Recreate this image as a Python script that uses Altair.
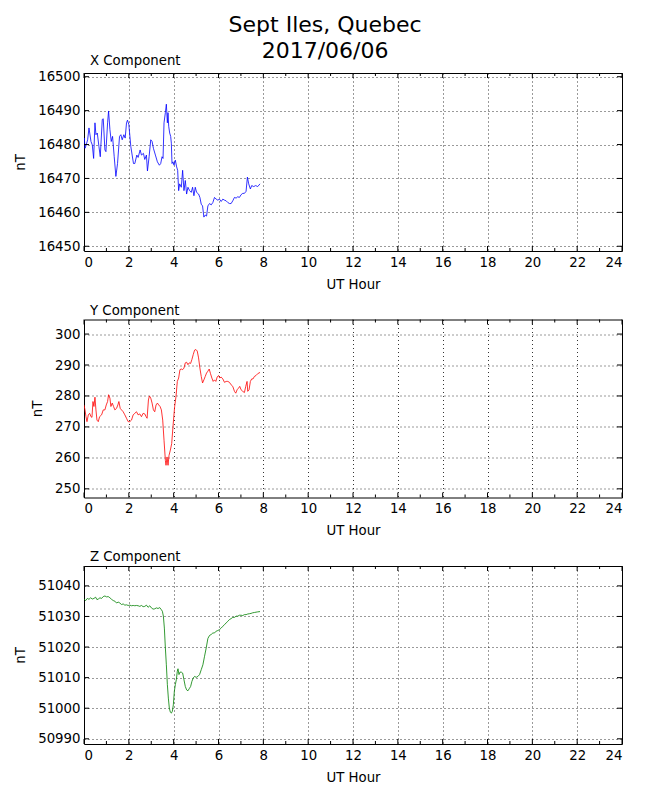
import altair as alt
import pandas as pd

FONT = "DejaVu Sans"

# ---------------- data ----------------
X_HOURS = [0.000, 0.015, 0.044, 0.074, 0.163, 0.222, 0.311, 0.370, 0.430, 0.489, 0.533, 0.593,
           0.667, 0.726, 0.815, 0.859, 0.933, 0.978, 1.052, 1.096, 1.156, 1.215, 1.274, 1.348,
           1.422, 1.496, 1.585, 1.644, 1.704, 1.778, 1.837, 1.896, 1.941, 2.000, 2.089, 2.207,
           2.267, 2.356, 2.415, 2.504, 2.563, 2.652, 2.711, 2.785, 2.830, 2.904, 2.978, 3.037,
           3.096, 3.185, 3.274, 3.363, 3.422, 3.481, 3.526, 3.570, 3.630, 3.674, 3.719, 3.748,
           3.778, 3.822, 3.867, 3.896, 3.926, 3.970, 4.015, 4.074, 4.133, 4.178, 4.222, 4.267,
           4.341, 4.400, 4.459, 4.519, 4.578, 4.637, 4.711, 4.785, 4.844, 4.904, 4.963, 5.022,
           5.111, 5.170, 5.230, 5.289, 5.348, 5.407, 5.467, 5.526, 5.600, 5.674, 5.748, 5.822,
           5.896, 5.970, 6.044, 6.119, 6.193, 6.267, 6.341, 6.415, 6.489, 6.563, 6.637, 6.711,
           6.785, 6.859, 6.933, 7.007, 7.081, 7.156, 7.230, 7.289, 7.348, 7.422, 7.481, 7.570,
           7.659, 7.748, 7.852]
X_VALUES = [16481.4, 16481.9, 16478.9, 16479.4, 16481.4, 16484.9, 16480.9, 16479.9, 16475.9, 16486.4,
            16482.9, 16483.4, 16479.4, 16476.4, 16487.4, 16487.6, 16478.4, 16477.9, 16486.4, 16489.9,
            16484.4, 16480.9, 16482.4, 16476.4, 16470.6, 16474.4, 16482.4, 16482.9, 16481.4, 16482.9,
            16481.9, 16486.4, 16487.2, 16485.9, 16479.4, 16474.4, 16474.4, 16476.9, 16476.2, 16478.4,
            16476.9, 16477.4, 16475.6, 16476.9, 16472.2, 16476.4, 16481.4, 16480.9, 16478.9, 16476.9,
            16474.9, 16473.9, 16474.4, 16476.4, 16475.9, 16486.4, 16489.4, 16491.9, 16486.4, 16489.4,
            16485.4, 16483.4, 16482.4, 16480.4, 16474.4, 16474.9, 16473.9, 16475.4, 16473.4, 16472.4,
            16466.4, 16468.4, 16467.4, 16472.4, 16466.4, 16469.4, 16465.4, 16467.4, 16466.4, 16465.9,
            16467.4, 16464.9, 16467.4, 16465.9, 16465.4, 16464.4, 16462.4, 16461.9, 16458.6, 16459.2,
            16458.9, 16461.9, 16462.6, 16462.2, 16462.9, 16464.4, 16463.9, 16463.6, 16463.9, 16463.2,
            16463.9, 16463.6, 16463.4, 16462.9, 16462.6, 16462.6, 16463.4, 16464.4, 16464.2, 16464.6,
            16464.4, 16465.2, 16465.6, 16465.6, 16466.2, 16470.4, 16468.4, 16466.9, 16467.9, 16467.6,
            16467.9, 16467.6, 16468.4]

Y_HOURS = [0.000, 0.044, 0.089, 0.133, 0.193, 0.252, 0.311, 0.356, 0.400, 0.444, 0.489, 0.533,
           0.578, 0.637, 0.696, 0.785, 0.859, 0.933, 0.993, 1.052, 1.096, 1.156, 1.200, 1.259,
           1.319, 1.378, 1.452, 1.511, 1.556, 1.615, 1.674, 1.748, 1.822, 1.896, 1.970, 2.044,
           2.119, 2.193, 2.267, 2.341, 2.415, 2.489, 2.563, 2.637, 2.711, 2.770, 2.815, 2.874,
           2.919, 2.978, 3.037, 3.096, 3.156, 3.215, 3.274, 3.333, 3.393, 3.452, 3.511, 3.570,
           3.630, 3.659, 3.704, 3.748, 3.793, 3.852, 3.911, 3.970, 4.044, 4.104, 4.163, 4.222,
           4.281, 4.341, 4.400, 4.459, 4.519, 4.578, 4.637, 4.696, 4.756, 4.815, 4.874, 4.933,
           4.993, 5.052, 5.111, 5.170, 5.230, 5.289, 5.348, 5.407, 5.467, 5.526, 5.585, 5.644,
           5.704, 5.763, 5.822, 5.881, 5.941, 6.000, 6.059, 6.119, 6.193, 6.267, 6.341, 6.415,
           6.489, 6.563, 6.637, 6.711, 6.770, 6.830, 6.889, 6.948, 7.007, 7.081, 7.156, 7.215,
           7.274, 7.304, 7.363, 7.422, 7.481, 7.541, 7.600, 7.674, 7.748, 7.852]
Y_VALUES = [277.1, 275.5, 273.3, 271.7, 273.9, 274.4, 273.3, 273.1, 278.2, 276.6, 279.6, 275.5,
            272.2, 271.7, 273.3, 273.9, 275.5, 275.5, 277.1, 278.2, 280.4, 279.3, 276.6, 277.7,
            276.6, 275.5, 276.0, 277.1, 278.2, 276.0, 275.5, 274.9, 273.9, 272.8, 271.7, 271.7,
            272.2, 273.9, 274.4, 274.9, 273.9, 274.2, 273.3, 274.4, 274.2, 273.3, 272.8, 278.7,
            280.0, 279.3, 277.7, 275.5, 274.9, 277.1, 277.7, 277.1, 276.6, 275.5, 272.2, 265.7,
            259.2, 257.6, 260.3, 257.6, 260.8, 262.5, 264.6, 270.1, 276.6, 279.8, 284.7, 285.8,
            288.5, 288.7, 288.5, 289.0, 290.7, 290.9, 290.1, 290.7, 290.5, 291.8, 293.4, 294.8,
            295.0, 294.5, 292.3, 289.0, 286.3, 284.2, 285.2, 286.3, 287.4, 288.0, 288.7, 287.2,
            285.8, 284.7, 285.2, 284.7, 286.1, 286.6, 285.8, 286.1, 285.5, 284.4, 284.7, 284.7,
            284.4, 283.6, 283.1, 281.5, 280.9, 282.0, 282.5, 283.1, 282.0, 281.5, 281.1, 283.1,
            284.7, 281.5, 282.0, 284.7, 285.5, 285.5, 286.3, 286.6, 287.2, 287.6]

Z_HOURS = [0.000, 0.074, 0.148, 0.222, 0.296, 0.370, 0.444, 0.519, 0.578, 0.637, 0.711, 0.785,
           0.859, 0.933, 1.007, 1.081, 1.156, 1.230, 1.304, 1.378, 1.452, 1.526, 1.600, 1.674,
           1.748, 1.822, 1.896, 1.970, 2.044, 2.119, 2.193, 2.267, 2.341, 2.415, 2.489, 2.563,
           2.637, 2.711, 2.785, 2.859, 2.933, 3.007, 3.081, 3.156, 3.230, 3.304, 3.378, 3.452,
           3.496, 3.541, 3.585, 3.630, 3.674, 3.719, 3.763, 3.807, 3.852, 3.896, 3.941, 3.985,
           4.030, 4.074, 4.119, 4.163, 4.193, 4.237, 4.281, 4.341, 4.400, 4.459, 4.519, 4.578,
           4.637, 4.696, 4.756, 4.815, 4.874, 4.933, 5.007, 5.081, 5.156, 5.230, 5.304, 5.378,
           5.452, 5.526, 5.600, 5.674, 5.748, 5.822, 5.896, 5.970, 6.044, 6.119, 6.193, 6.267,
           6.341, 6.415, 6.489, 6.563, 6.637, 6.711, 6.785, 6.859, 6.933, 7.007, 7.081, 7.156,
           7.230, 7.304, 7.378, 7.452, 7.526, 7.600, 7.674, 7.748, 7.852]
Z_VALUES = [51035.7, 51035.2, 51035.9, 51035.6, 51036.1, 51035.7, 51035.9, 51036.3, 51035.5, 51035.7,
            51036.1, 51035.9, 51036.5, 51036.7, 51036.4, 51036.5, 51036.1, 51035.6, 51035.2, 51035.0,
            51034.4, 51034.7, 51034.4, 51033.9, 51034.1, 51033.7, 51033.8, 51033.6, 51033.7, 51033.5,
            51033.6, 51033.5, 51033.6, 51033.5, 51033.3, 51033.6, 51033.2, 51033.3, 51033.7, 51033.0,
            51033.5, 51032.8, 51032.4, 51032.5, 51032.8, 51032.6, 51032.9, 51032.2, 51031.7, 51030.1,
            51026.2, 51019.7, 51014.2, 51007.7, 51003.3, 51000.0, 50998.7, 50998.4, 50999.0, 51001.1,
            51005.5, 51007.7, 51009.3, 51012.1, 51012.9, 51011.0, 51011.8, 51011.8, 51011.5, 51009.3,
            51007.1, 51006.0, 51005.7, 51006.4, 51007.1, 51008.8, 51009.9, 51010.4, 51010.1, 51010.4,
            51011.0, 51012.6, 51014.2, 51017.0, 51019.7, 51022.8, 51023.8, 51024.1, 51024.6, 51024.6,
            51025.2, 51025.4, 51025.7, 51026.2, 51026.8, 51027.3, 51027.9, 51028.4, 51029.0, 51029.3,
            51029.7, 51029.7, 51030.1, 51030.1, 51030.4, 51030.4, 51030.3, 51030.6, 51030.6, 51030.8,
            51030.9, 51031.0, 51031.2, 51031.3, 51031.4, 51031.5, 51031.6]

X_DOMAIN = [16448.6, 16501.1]
Y_DOMAIN = [247.2, 304.7]
Z_DOMAIN = [50988.3, 51046.5]

X_TICKS = [16450, 16460, 16470, 16480, 16490, 16500]
Y_TICKS = [250, 260, 270, 280, 290, 300]
Z_TICKS = [50990, 51000, 51010, 51020, 51030, 51040]

HOUR_LABELS = [0, 2, 4, 6, 8, 10, 12, 14, 16, 18, 20, 22, 24]
HOUR_MINOR = [1, 3, 5, 7, 9, 11, 13, 15, 17, 19, 21, 23]

TITLE_LINES = ["Sept Iles, Quebec", "2017/06/06"]

W, H = 538, 178


def panel(hours, values, color, name, domain, yticks):
    xs = alt.Scale(domain=[0, 24], nice=False, zero=False)
    ys = alt.Scale(domain=domain, nice=False, zero=False)
    xaxis = alt.Axis(values=HOUR_LABELS, title="UT Hour", grid=True, ticks=False, domain=False,
                     format="d", labelPadding=4, titlePadding=9)
    yaxis = alt.Axis(values=yticks, title="nT", grid=True, ticks=False, domain=False,
                     format="d", labelPadding=4, titlePadding=10)
    df = pd.DataFrame({"h": hours, "v": values})

    line = alt.Chart(df).mark_line(color=color, strokeWidth=0.8, clip=True).encode(
        x=alt.X("h:Q", scale=xs, axis=xaxis),
        y=alt.Y("v:Q", scale=ys, axis=yaxis),
    )

    major = pd.DataFrame({"h": HOUR_LABELS})
    minor = pd.DataFrame({"h": HOUR_MINOR})
    yt = pd.DataFrame({"v": yticks})

    def xt(df_, y0, y1):
        return alt.Chart(df_).mark_rule(color="black", strokeWidth=1).encode(
            x=alt.X("h:Q", scale=xs, axis=xaxis), y=alt.value(y0), y2=alt.value(y1))

    def ytk(x0, x1):
        return alt.Chart(yt).mark_rule(color="black", strokeWidth=1).encode(
            y=alt.Y("v:Q", scale=ys, axis=yaxis), x=alt.value(x0), x2=alt.value(x1))

    layers = [line,
              xt(major, 0, 5), xt(major, H - 5, H),
              xt(minor, 0, 3), xt(minor, H - 3, H),
              ytk(0, 5), ytk(W - 5, W)]
    return alt.layer(*layers).properties(
        width=W, height=H,
        title=alt.TitleParams(name, anchor="start", frame="group", fontSize=13.3, font=FONT,
                              fontWeight="normal", color="black", dx=6, offset=2),
    )


p1 = panel(X_HOURS, X_VALUES, "#0000ff", "X Component", X_DOMAIN, X_TICKS)
p2 = panel(Y_HOURS, Y_VALUES, "#ff0000", "Y Component", Y_DOMAIN, Y_TICKS)
p3 = panel(Z_HOURS, Z_VALUES, "#008000", "Z Component", Z_DOMAIN, Z_TICKS)

chart = alt.vconcat(p1, p2, p3, spacing=10.5).properties(
    title=alt.TitleParams(TITLE_LINES, anchor="middle", fontSize=22, font=FONT,
                          fontWeight="normal", color="black", lineHeight=26,
                          offset=-9, dx=7),
    padding={"left": 5, "top": 5, "right": 5, "bottom": 5},
).configure_view(
    stroke="black", strokeWidth=1
).configure_axis(
    labelFont=FONT, labelFontSize=13.3, labelColor="black",
    titleFont=FONT, titleFontSize=13.3, titleFontWeight="normal", titleColor="black",
    gridColor="black", gridDash=[1, 3], gridOpacity=1, gridWidth=0.8,
    labelOverlap=False,
)

chart.save("out.html", embed_options={"renderer": "svg", "actions": False})
